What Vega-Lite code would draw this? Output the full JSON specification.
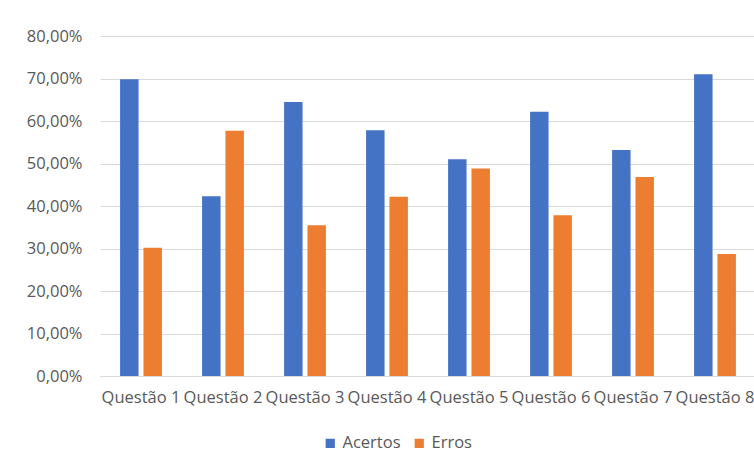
{
  "$schema": "https://vega.github.io/schema/vega-lite/v6.json",
  "width": 656,
  "height": 340,
  "autosize": {"type": "none"},
  "padding": {"left": 100, "top": 36, "right": 0, "bottom": 85},
  "background": "white",
  "data": {
    "values": [
      {"q": "Questão 1", "s": "Acertos", "v": 0.698},
      {"q": "Questão 1", "s": "Erros", "v": 0.302},
      {"q": "Questão 2", "s": "Acertos", "v": 0.423},
      {"q": "Questão 2", "s": "Erros", "v": 0.577},
      {"q": "Questão 3", "s": "Acertos", "v": 0.645},
      {"q": "Questão 3", "s": "Erros", "v": 0.355},
      {"q": "Questão 4", "s": "Acertos", "v": 0.578},
      {"q": "Questão 4", "s": "Erros", "v": 0.422},
      {"q": "Questão 5", "s": "Acertos", "v": 0.51},
      {"q": "Questão 5", "s": "Erros", "v": 0.488},
      {"q": "Questão 6", "s": "Acertos", "v": 0.622},
      {"q": "Questão 6", "s": "Erros", "v": 0.378},
      {"q": "Questão 7", "s": "Acertos", "v": 0.532},
      {"q": "Questão 7", "s": "Erros", "v": 0.468},
      {"q": "Questão 8", "s": "Acertos", "v": 0.71},
      {"q": "Questão 8", "s": "Erros", "v": 0.287}
    ]
  },
  "mark": {"type": "bar"},
  "encoding": {
    "x": {
      "field": "q",
      "type": "nominal",
      "sort": null,
      "scale": {"paddingInner": 0.49, "paddingOuter": 0.245},
      "axis": {
        "title": null,
        "labelAngle": 0,
        "labelOverlap": false,
        "labelLimit": 0,
        "ticks": false,
        "domain": true,
        "domainColor": "#d9d9d9",
        "labelPadding": 13,
        "labelColor": "#595959",
        "labelFont": "Open Sans",
        "labelFontSize": 16.5
      }
    },
    "xOffset": {"field": "s", "type": "nominal", "scale": {"paddingInner": 0.21}},
    "y": {
      "field": "v",
      "type": "quantitative",
      "scale": {"domain": [0, 0.8], "nice": false},
      "axis": {
        "title": null,
        "values": [0, 0.1, 0.2, 0.3, 0.4, 0.5, 0.6, 0.7, 0.8],
        "labelExpr": "replace(format(datum.value, '.2%'), '.', ',')",
        "ticks": false,
        "domain": false,
        "gridColor": "#d9d9d9",
        "labelPadding": 18,
        "labelColor": "#595959",
        "labelFont": "Open Sans",
        "labelFontSize": 16.5
      }
    },
    "color": {
      "field": "s",
      "type": "nominal",
      "scale": {"domain": ["Acertos", "Erros"], "range": ["#4472C4", "#ED7D31"]},
      "legend": {
        "title": null,
        "orient": "none",
        "direction": "horizontal",
        "legendX": 222,
        "legendY": 399,
        "symbolType": "square",
        "symbolSize": 85,
        "symbolStrokeWidth": 0,
        "labelColor": "#595959",
        "labelFont": "Open Sans",
        "labelFontSize": 16.5,
        "columnPadding": 10,
        "labelOffset": 4
      }
    }
  },
  "config": {"view": {"stroke": null}}
}
